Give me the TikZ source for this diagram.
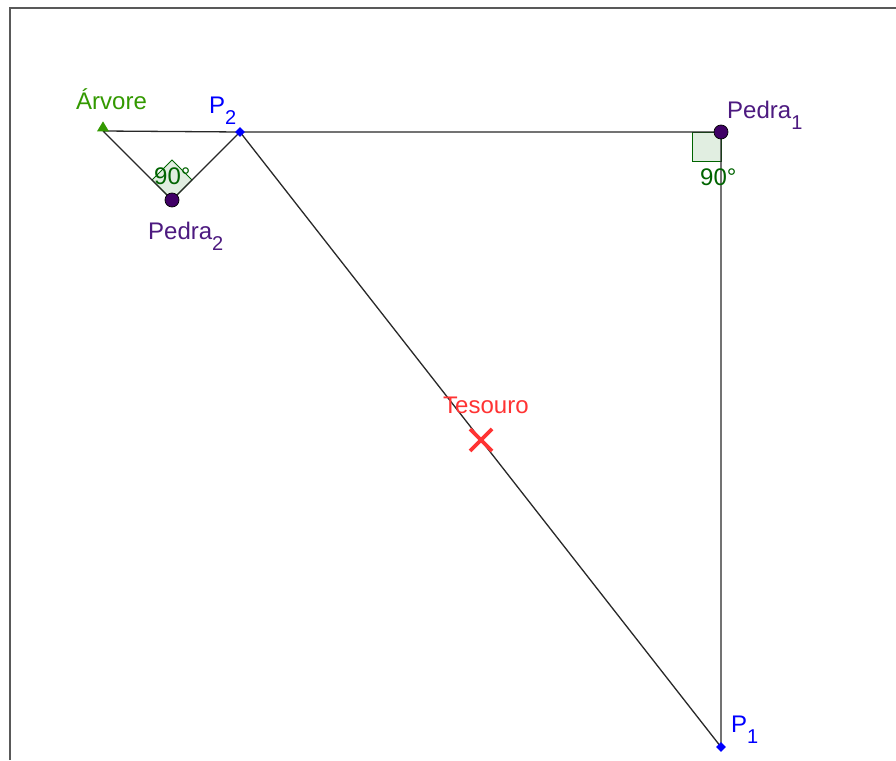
\documentclass[tikz,border=0pt]{standalone}
\usepackage{fontspec}
\setmainfont{Liberation Sans}
\definecolor{lineC}{RGB}{40,40,40}
\definecolor{treeC}{RGB}{51,153,0}
\definecolor{pointC}{RGB}{0,0,255}
\definecolor{stoneC}{RGB}{64,0,102}
\definecolor{stoneT}{RGB}{77,26,128}
\definecolor{angC}{RGB}{0,100,0}
\definecolor{angF}{RGB}{225,238,225}
\definecolor{treasC}{RGB}{255,51,51}
\newcommand{\subs}[1]{\raisebox{-11pt}{\fontsize{20}{22}\selectfont #1}}
\tikzset{
  lbl/.style={anchor=base west, inner sep=0pt, font=\fontsize{24}{26}\selectfont},
  seg/.style={draw=lineC, line width=1.3pt},
  angsq/.style={draw=angC, fill=angF, line width=0.9pt},
  stone/.style={circle, fill=stoneC, draw=black, line width=0.7pt, minimum size=14pt, inner sep=0pt},
  ppt/.style={diamond, fill=pointC, minimum size=10pt, inner sep=0pt},
  tree/.style={isosceles triangle, shape border rotate=90, fill=treeC, minimum width=12pt, minimum height=10pt, isosceles triangle stretches, inner sep=0pt},
  frame/.style={draw=gray!70!black, line width=1.8pt}
}
\usetikzlibrary{shapes.geometric}
\begin{document}
\begin{tikzpicture}[x=1pt,y=-1pt]
\useasboundingbox (0,0) rectangle (896,760);
\fill[white] (0,0) rectangle (896,760);
% frame
\coordinate (fa) at (10,760);
\coordinate (fb) at (10,8);
\coordinate (fc) at (896,8);
\draw[frame] (fa) -- (fb) -- (fc);
% point positions
\coordinate (arv) at (103,131);
\coordinate (p2) at (240,132);
\coordinate (pd1) at (721,132);
\coordinate (pd2) at (172,200);
\coordinate (p1) at (721,747);
% angle marks
\coordinate (q1) at (692,132);
\coordinate (q2) at (692,161);
\coordinate (q3) at (721,161);
\draw[angsq] (pd1) -- (q1) -- (q2) -- (q3) -- cycle;
\coordinate (r1) at (152,180);
\coordinate (r2) at (172,160);
\coordinate (r3) at (192,180);
\draw[angsq] (pd2) -- (r1) -- (r2) -- (r3) -- cycle;
% segments
\draw[seg] (arv) -- (p2) -- (pd1) -- (p1) -- (p2) -- (pd2) -- (arv);
% markers
\node[tree] (arvN) at (103,128) {};
\node[ppt] (p2N) at (p2) {};
\node[ppt] (p1N) at (p1) {};
\node[stone] (pd1N) at (pd1) {};
\node[stone] (pd2N) at (pd2) {};
\coordinate (xa) at (470,429);
\coordinate (xb) at (492,451);
\coordinate (xc) at (470,451);
\coordinate (xd) at (492,429);
\draw[treasC, line width=3.8pt] (xa) -- (xb) (xc) -- (xd);
% labels
\node[lbl, text=treeC] (larv) at (76,109) {Árvore};
\node[lbl, text=pointC] (lp2) at (209,113) {P\subs{2}};
\node[lbl, text=stoneT] (lpd1) at (727,118) {Pedra\subs{1}};
\node[lbl, text=stoneT] (lpd2) at (148,239) {Pedra\subs{2}};
\node[lbl, text=pointC] (lp1) at (731,732) {P\subs{1}};
\node[lbl, text=treasC] (ltes) at (443,413) {Tesouro};
\node[lbl, text=angC] (la1) at (700,185) {90°};
\node[lbl, text=angC] (la2) at (154,184) {90°};
\end{tikzpicture}
\end{document}
